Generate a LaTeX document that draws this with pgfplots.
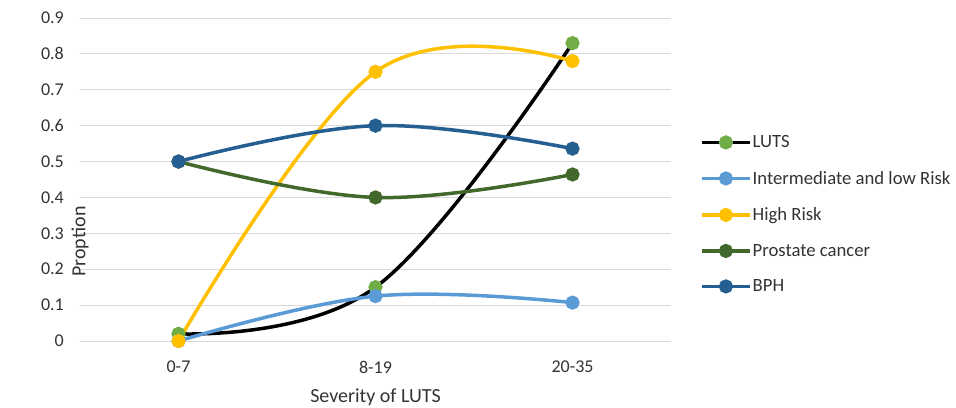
\documentclass[border=0pt]{standalone}
\usepackage{pgfplots}
\pgfplotsset{compat=1.18}
\usepackage{fontspec}
\setmainfont{Carlito}

\definecolor{txt}{HTML}{333333}
\definecolor{gridc}{HTML}{D9D9D9}
\definecolor{tickc}{HTML}{BFBFBF}
\definecolor{lutsmark}{HTML}{70AD47}
\definecolor{interm}{HTML}{5B9BD5}
\definecolor{highr}{HTML}{FFC000}
\definecolor{prost}{HTML}{43682B}
\definecolor{bph}{HTML}{255E91}

\begin{document}
\begin{tikzpicture}
\path[use as bounding box] (-80bp,-67bp) rectangle (876bp,341bp);
\begin{axis}[
  at={(0,0)}, anchor=south west,
  scale only axis,
  width=591bp, height=323bp,
  xmin=-0.5, xmax=2.5,
  ymin=0, ymax=0.9,
  xtick={0,1,2},
  xticklabels={0-7,8-19,20-35},
  major x tick style={draw=none},
  extra x ticks={-0.5,0.5,1.5,2.5},
  extra x tick labels={},
  extra x tick style={major tick length=6bp, tick align=outside, tick style={draw=tickc, line width=0.8bp}, grid=none},
  xtick pos=bottom,
  ytick={0,0.1,0.2,0.3,0.4,0.5,0.6,0.7,0.8,0.9},
  yticklabels={0,0.1,0.2,0.3,0.4,0.5,0.6,0.7,0.8,0.9},
  major y tick style={draw=none},
  ymajorgrids,
  grid style={draw=gridc, line width=0.9bp},
  axis line style={draw=none},
  clip=false,
  tick label style={font=\fontsize{18bp}{20bp}\selectfont, text=txt},
  yticklabel style={anchor=east, inner sep=0pt, xshift=-16bp},
  xticklabel style={anchor=center, inner sep=0pt, yshift=-26bp},
  xlabel={Severity of LUTS},
  ylabel={Proption},
  every axis x label/.style={at={(axis description cs:0.5,0)}, anchor=center, yshift=-56bp,
    font=\fontsize{20bp}{22bp}\selectfont, text=txt},
  every axis y label/.style={at={(axis description cs:0,0.5)}, anchor=center, rotate=90, xshift=-62bp,
    font=\fontsize{20bp}{22bp}\selectfont, text=txt},
  every axis plot/.append style={line width=3.5bp, mark=*, mark size=5.3bp, tension=0.65},
  legend image code/.code={\draw[mark repeat=2,mark phase=2,#1] plot coordinates {(0bp,0bp) (24bp,0bp) (48bp,0bp)};},
  legend style={draw=none, fill=none, inner sep=0pt, at={(axis description cs:1.049,0.392)}, anchor=west,
    font=\fontsize{18.7bp}{20bp}\selectfont, text=txt, row sep=20bp, column sep=0bp,
    nodes={inner sep=1bp}},
  legend cell align=left,
]
\addplot[smooth, draw=black, mark options={draw=lutsmark, fill=lutsmark}] coordinates {(0,0.02) (1,0.15) (2,0.83)};
\addlegendentry{LUTS}
\addplot[smooth, draw=interm, mark options={draw=interm, fill=interm}] coordinates {(0,0) (1,0.125) (2,0.107)};
\addlegendentry{Intermediate and low Risk}
\addplot[smooth, draw=highr, mark options={draw=highr, fill=highr}] coordinates {(0,0) (1,0.75) (2,0.78)};
\addlegendentry{High Risk}
\addplot[smooth, draw=prost, mark options={draw=prost, fill=prost}] coordinates {(0,0.5) (1,0.4) (2,0.464)};
\addlegendentry{Prostate cancer}
\addplot[smooth, draw=bph, mark options={draw=bph, fill=bph}] coordinates {(0,0.5) (1,0.6) (2,0.536)};
\addlegendentry{BPH}
\end{axis}
\end{tikzpicture}
\end{document}
